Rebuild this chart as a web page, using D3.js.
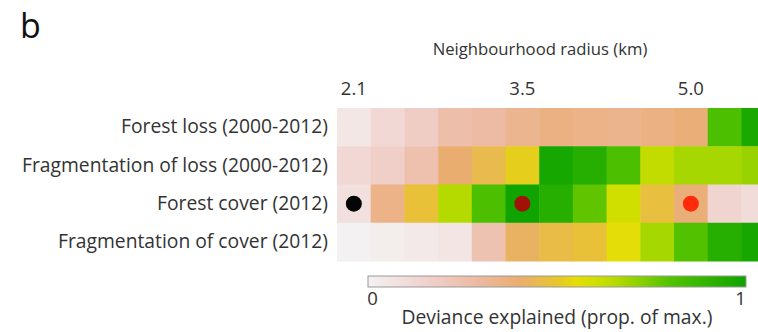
<!DOCTYPE html>
<html>
<head>
<meta charset="utf-8">
<script src="https://cdn.jsdelivr.net/npm/d3@7"></script>
<style>
  html, body { margin: 0; padding: 0; background: #fff; }
  svg { display: block; font-family: "Open Sans", "DejaVu Sans", sans-serif; }
</style>
</head>
<body>
<svg id="chart" width="758" height="332"></svg>
<script>
// Neighbourhood radii (km) for each heatmap column
const radii = ["2.1", "2.4", "2.7", "2.9", "3.2", "3.5", "3.8", "4.1", "4.4", "4.7", "5.0", "5.3", "5.6"];
const radiusTicks = ["2.1", "3.5", "5.0"];

// Predictor rows
const predictors = [
  "Forest loss (2000-2012)",
  "Fragmentation of loss (2000-2012)",
  "Forest cover (2012)",
  "Fragmentation of cover (2012)"
];

// Deviance explained (proportion of max.) per predictor, one value per radius
const forestLoss       = [0.05, 0.12, 0.18, 0.26, 0.28, 0.33, 0.36, 0.35, 0.34, 0.36, 0.38, 0.82, 0.97];
const fragLoss         = [0.12, 0.17, 0.25, 0.40, 0.45, 0.52, 0.98, 0.93, 0.82, 0.63, 0.68, 0.68, 0.70];
const forestCover      = [0.08, 0.35, 0.48, 0.66, 0.82, 1.00, 0.93, 0.78, 0.60, 0.47, 0.38, 0.14, 0.10];
const fragCover        = [0.00, 0.02, 0.04, 0.06, 0.24, 0.42, 0.46, 0.48, 0.55, 0.68, 0.80, 0.93, 0.98];
const seriesValues = [forestLoss, fragLoss, forestCover, fragCover];

// Highlighted radii on the forest-cover row
const markerRow = "Forest cover (2012)";
const markerRadii = ["2.1", "3.5", "5.0"];

const colourbarTicks = [0, 1];

const svg = d3.select("#chart");
const font = "\"Open Sans\", sans-serif";
const textColour = "#333";

// Colour ramp: off-white -> pink -> orange -> yellow -> green
const rampStops = [0, 0.15, 0.3, 0.4, 0.5, 0.56, 0.66, 0.8, 1];
const rampColours = ["#f3f1f1", "#f0d2ce", "#ecb89e", "#eaad70", "#e7c62a", "#e4e200", "#b4da00", "#52c200", "#0fa400"];
const colour = d3.scaleLinear().domain(rampStops).range(rampColours).interpolate(d3.interpolateRgb).clamp(true);

const x = d3.scaleBand().domain(radii).range([337, 337 + 13 * 33.7]).padding(0);
const y = d3.scaleBand().domain(predictors).range([108, 261]).padding(0);

// Panel letter
svg.append("text").attr("x", 20).attr("y", 38)
  .attr("font-size", 34).attr("fill", "#111").text("b");

// Axis title
svg.append("text").attr("x", 540).attr("y", 55)
  .attr("text-anchor", "middle").attr("font-size", 16.7).attr("fill", textColour)
  .text("Neighbourhood radius (km)");

// Heatmap cells
const cells = [];
predictors.forEach((p, i) => radii.forEach((r, j) => cells.push({ p, r, v: seriesValues[i][j] })));
svg.append("g").selectAll("rect").data(cells).join("rect")
  .attr("x", d => x(d.r)).attr("y", d => y(d.p))
  .attr("width", x.bandwidth() + 0.5).attr("height", y.bandwidth() + 0.5)
  .attr("fill", d => colour(d.v));

// Top radius axis
const topAxis = svg.append("g").attr("transform", "translate(0,100)")
  .call(d3.axisTop(x).tickValues(radiusTicks).tickSize(0).tickPadding(5));
topAxis.select(".domain").remove();
topAxis.selectAll("text").attr("font-size", 18.5).attr("fill", textColour)
  .attr("font-family", font);

// Row labels
const leftAxis = svg.append("g").attr("transform", "translate(337,0)")
  .call(d3.axisLeft(y).tickSize(0).tickPadding(9));
leftAxis.select(".domain").remove();
leftAxis.selectAll("text").attr("font-size", 19.3).attr("fill", textColour)
  .attr("font-family", font);

// Markers on the forest-cover row
const markerFill = { "2.1": "#050505", "3.5": "#a01208", "5.0": "#ff2a0a" };
svg.append("g").selectAll("circle").data(markerRadii).join("circle")
  .attr("cx", r => x(r) + x.bandwidth() / 2)
  .attr("cy", y(markerRow) + y.bandwidth() / 2)
  .attr("r", 8)
  .attr("fill", r => markerFill[r]);

// Colour bar
const defs = svg.append("defs");
const grad = defs.append("linearGradient").attr("id", "ramp")
  .attr("x1", "0%").attr("x2", "100%").attr("y1", "0%").attr("y2", "0%");
d3.range(0, 1.0001, 0.05).forEach(t => {
  grad.append("stop").attr("offset", (t * 100) + "%").attr("stop-color", colour(t));
});
svg.append("rect").attr("x", 368).attr("y", 276).attr("width", 378).attr("height", 11)
  .attr("fill", "url(#ramp)").attr("stroke", "#999").attr("stroke-width", 1);

const cb = d3.scaleLinear().domain([0, 1]).range([372, 740]);
const cbAxis = svg.append("g").attr("transform", "translate(0,288)")
  .call(d3.axisBottom(cb).tickValues(colourbarTicks).tickFormat(d3.format("d")).tickSize(0).tickPadding(4));
cbAxis.select(".domain").remove();
cbAxis.selectAll("text").attr("font-size", 18.5).attr("fill", textColour)
  .attr("font-family", font);

svg.append("text").attr("x", 557).attr("y", 324)
  .attr("text-anchor", "middle").attr("font-size", 19.3).attr("fill", textColour)
  .text("Deviance explained (prop. of max.)");
</script>
</body>
</html>
